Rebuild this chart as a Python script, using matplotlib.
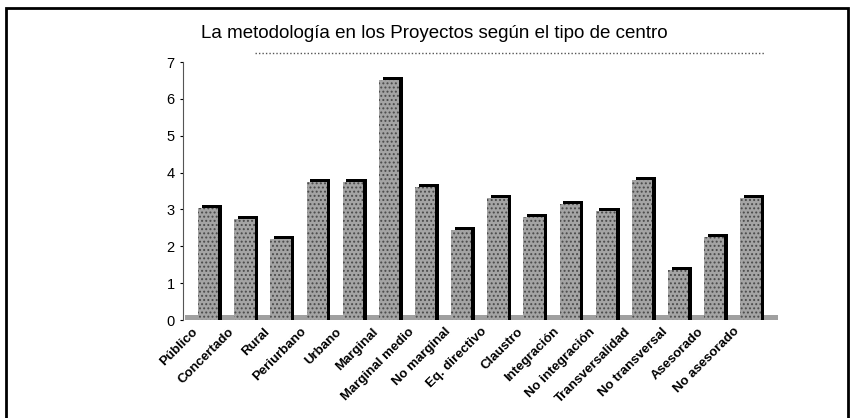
import matplotlib.pyplot as plt
import matplotlib.transforms as mtransforms
import numpy as np
from matplotlib.patches import Rectangle

plt.rcParams['font.family'] = ['Liberation Sans', 'DejaVu Sans']
plt.rcParams['hatch.color'] = '#4a4a4a'
plt.rcParams['hatch.linewidth'] = 0.9

title = 'La metodología en los Proyectos según el tipo de centro'
categories = ['Público', 'Concertado', 'Rural', 'Periurbano', 'Urbano',
              'Marginal', 'Marginal medio', 'No marginal', 'Eq. directivo',
              'Claustro', 'Integración', 'No integración', 'Transversalidad',
              'No transversal', 'Asesorado', 'No asesorado']
values = [3.05, 2.75, 2.2, 3.75, 3.75, 6.5, 3.6, 2.45, 3.3,
          2.8, 3.15, 2.95, 3.8, 1.35, 2.25, 3.3]
yticks = [0, 1, 2, 3, 4, 5, 6, 7]

fig = plt.figure(figsize=(8.54, 4.18), dpi=100)
# outer frame
fig.patches.append(Rectangle((6 / 854, -0.05), 842 / 854, 1.05 - 8 / 418,
                             transform=fig.transFigure, fill=False,
                             edgecolor='black', linewidth=2))
fig.text(434 / 854, 1 - 33 / 418, title, ha='center', va='center', fontsize=13.5)

ax = fig.add_axes([183 / 854, 98 / 418, 600 / 854, 258 / 418])
x = np.arange(len(categories))
w = 0.56

# floor
ax.fill_between([-0.65, 15.75], -0.06, 0.14, color='#a0a0a0', hatch='....',
                linewidth=0, zorder=1)

# dark side / top of each bar, then the front face
ax.bar(x + 0.1, np.array(values) + 0.08, width=w, color='black', zorder=2)
ax.bar(x, values, width=w, color='#a4a4a4', hatch='....', edgecolor='#4a4a4a',
       linewidth=0, zorder=3)

# dotted guide line from the original
ax.axhline(7.25, xmin=0.12, xmax=0.97, color='#555555', linestyle=(0, (1, 1.5)),
           linewidth=1, clip_on=False)

ax.set_xlim(-0.7, 15.9)
ax.set_ylim(0, 7)
ax.set_yticks(yticks)
ax.tick_params(axis='y', length=2, labelsize=10.5, pad=4)
ax.tick_params(axis='x', length=0, pad=4)
ax.set_xticks(x)
ax.set_xticklabels(categories, rotation=45, ha='right', va='top', fontsize=9.5,
                   fontweight='bold', rotation_mode='anchor')
shift = mtransforms.ScaledTranslation(-0.17, 0, fig.dpi_scale_trans)
for lab in ax.get_xticklabels():
    lab.set_transform(lab.get_transform() + shift)
for s in ['top', 'right', 'bottom']:
    ax.spines[s].set_visible(False)
ax.spines['left'].set_linestyle((0, (1, 1)))
ax.spines['left'].set_color('#555555')

fig.savefig('out.png', dpi=100)
